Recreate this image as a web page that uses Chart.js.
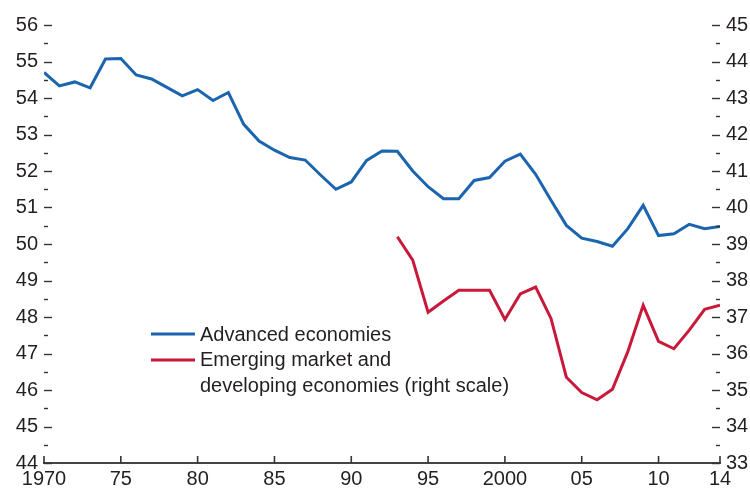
<!DOCTYPE html>
<html>
<head>
<meta charset="utf-8">
<script src="https://cdn.jsdelivr.net/npm/chart.js@4"></script>
<style>
  html, body { margin: 0; padding: 0; background: #fff; }
  #wrap { width: 750px; height: 489px; }
</style>
</head>
<body>
<div id="wrap"><canvas id="chart"></canvas></div>
<script>
const years = [1970, 1971, 1972, 1973, 1974, 1975, 1976, 1977, 1978, 1979,
  1980, 1981, 1982, 1983, 1984, 1985, 1986, 1987, 1988, 1989,
  1990, 1991, 1992, 1993, 1994, 1995, 1996, 1997, 1998, 1999,
  2000, 2001, 2002, 2003, 2004, 2005, 2006, 2007, 2008, 2009,
  2010, 2011, 2012, 2013, 2014];

// left scale
const advanced = [54.70, 54.33, 54.44, 54.28, 55.07, 55.08, 54.63, 54.52, 54.29, 54.06,
  54.23, 53.93, 54.15, 53.28, 52.82, 52.57, 52.37, 52.30, 51.89, 51.50,
  51.70, 52.29, 52.55, 52.54, 52.00, 51.57, 51.24, 51.24, 51.74, 51.82,
  52.27, 52.46, 51.91, 51.20, 50.51, 50.16, 50.07, 49.94, 50.42, 51.06,
  50.23, 50.28, 50.54, 50.42, 50.48];

// right scale, series starts in 1993
const emerging = [null, null, null, null, null, null, null, null, null, null,
  null, null, null, null, null, null, null, null, null, null,
  null, null, null, 39.20, 38.56, 37.13, 37.44, 37.73, 37.73, 37.73,
  36.93, 37.63, 37.82, 36.96, 35.35, 34.93, 34.73, 35.02, 36.05, 37.32,
  36.33, 36.13, 36.64, 37.21, 37.32];

const xTickYears = [1970, 1975, 1980, 1985, 1990, 1995, 2000, 2005, 2010, 2014];
const xTickLabels = ['1970', '75', '80', '85', '90', '95', '2000', '05', '10', '14'];

const seriesNames = ['Advanced economies', 'Emerging market and', 'developing economies (right scale)'];

const FONT = '"Liberation Sans", Arial, sans-serif';
const TEXT = '#231f20';
const BLUE = '#1b64ae';
const RED = '#c8193a';

// tick marks drawn inward, plus the legend in the plot area
const marks = {
  id: 'marks',
  afterDraw(chart) {
    const { ctx, chartArea: a, scales } = chart;
    ctx.save();
    ctx.strokeStyle = '#333';
    ctx.lineWidth = 1.4;
    const seg = (x1, y1, x2, y2) => { ctx.beginPath(); ctx.moveTo(x1, y1); ctx.lineTo(x2, y2); ctx.stroke(); };

    [['yL', 1], ['yR', -1]].forEach(([id, dir]) => {
      const s = scales[id];
      const edge = dir > 0 ? a.left : a.right;
      for (let v = s.min; v <= s.max; v += 0.5) {
        const y = Math.round(s.getPixelForValue(v)) + 0.5;
        const len = Number.isInteger(v) ? 8 : 4;
        seg(edge, y, edge + dir * len, y);
      }
    });

    ctx.lineWidth = 1.6;
    xTickYears.forEach(v => {
      const x = scales.x.getPixelForValue(v);
      seg(x, a.bottom, x, a.bottom - 7);
    });

    // legend
    const lx = a.left + 107, ly = a.top + 309;
    ctx.lineWidth = 3;
    ctx.strokeStyle = BLUE;
    seg(lx, ly, lx + 44, ly);
    ctx.strokeStyle = RED;
    seg(lx, ly + 26, lx + 44, ly + 26);
    ctx.fillStyle = TEXT;
    ctx.font = '20px ' + FONT;
    ctx.textBaseline = 'middle';
    seriesNames.forEach((t, i) => ctx.fillText(t, lx + 49, ly + 1 + i * 25.5));
    ctx.restore();
  }
};

new Chart(document.getElementById('chart'), {
  type: 'line',
  data: {
    datasets: [
      {
        label: 'Advanced economies',
        data: years.map((y, i) => ({ x: y, y: advanced[i] })),
        yAxisID: 'yL',
        borderColor: BLUE,
        borderWidth: 3
      },
      {
        label: 'Emerging market and developing economies (right scale)',
        data: years.map((y, i) => ({ x: y, y: emerging[i] })),
        yAxisID: 'yR',
        borderColor: RED,
        borderWidth: 3
      }
    ]
  },
  options: {
    responsive: true,
    maintainAspectRatio: false,
    animation: false,
    layout: { padding: { top: 25, right: 0, bottom: 0, left: 0 } },
    elements: { point: { radius: 0 }, line: { tension: 0 } },
    plugins: { legend: { display: false }, tooltip: { enabled: false } },
    scales: {
      x: {
        type: 'linear',
        min: 1970,
        max: 2014,
        afterBuildTicks: s => { s.ticks = xTickYears.map(v => ({ value: v })); },
        afterFit: s => { s.height = 26; },
        grid: { display: false, drawTicks: false },
        border: { display: true, color: '#444', width: 2 },
        ticks: {
          autoSkip: false,
          maxRotation: 0,
          padding: 4,
          color: TEXT,
          font: { family: FONT, size: 20 },
          callback: v => xTickLabels[xTickYears.indexOf(v)]
        }
      },
      yL: {
        position: 'left',
        min: 44,
        max: 56,
        afterFit: s => { s.width = 44; },
        grid: { display: false, drawTicks: false },
        border: { display: false },
        ticks: { stepSize: 1, padding: 6, color: TEXT, font: { family: FONT, size: 20 } }
      },
      yR: {
        position: 'right',
        min: 33,
        max: 45,
        afterFit: s => { s.width = 30; },
        grid: { display: false, drawTicks: false },
        border: { display: false },
        ticks: { stepSize: 1, padding: 6, color: TEXT, font: { family: FONT, size: 20 } }
      }
    }
  },
  plugins: [marks]
});
</script>
</body>
</html>
